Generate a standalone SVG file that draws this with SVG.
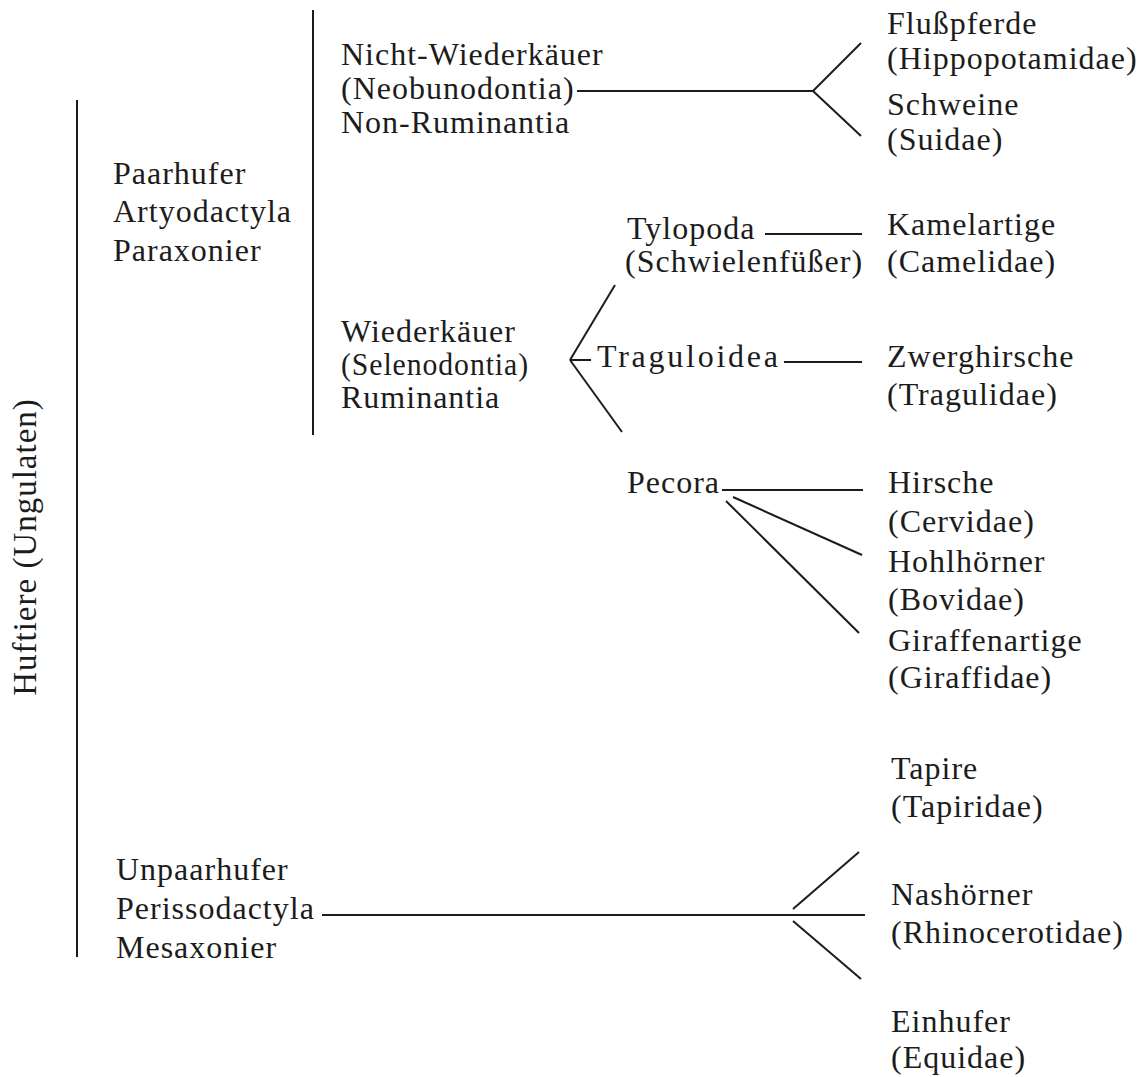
<svg xmlns="http://www.w3.org/2000/svg" width="1138" height="1077" viewBox="0 0 1138 1077">
<style>
text{font-family:"Liberation Serif","Times New Roman",serif;font-size:32px;letter-spacing:1px;fill:#1c1c1c}
.big{font-size:33px}
.c line{stroke:#1c1c1c;stroke-width:2;stroke-linecap:butt}
</style>
<rect width="1138" height="1077" fill="#ffffff"/>
<g id="root">
<text class="big" transform="translate(36,547) rotate(-90)" text-anchor="middle">Huftiere (Ungulaten)</text>
</g>
<g id="paarhufer">
<text x="113" y="184">Paarhufer</text>
<text x="113" y="222">Artyodactyla</text>
<text x="113" y="261">Paraxonier</text>
</g>
<g id="unpaarhufer">
<text x="116" y="880">Unpaarhufer</text>
<text x="116" y="919">Perissodactyla</text>
<text x="116" y="958">Mesaxonier</text>
</g>
<g id="nichtwiederkaeuer">
<text x="341" y="65">Nicht-Wiederkäuer</text>
<text x="341" y="99">(Neobunodontia)</text>
<text x="341" y="133">Non-Ruminantia</text>
</g>
<g id="wiederkaeuer">
<text x="341" y="342">Wiederkäuer</text>
<text x="341" y="375" textLength="188" lengthAdjust="spacingAndGlyphs">(Selenodontia)</text>
<text x="341" y="408">Ruminantia</text>
</g>
<g id="tylopoda">
<text x="627" y="239">Tylopoda</text>
<text x="625" y="272">(Schwielenfüßer)</text>
</g>
<g id="traguloidea">
<text x="597" y="367" textLength="182" lengthAdjust="spacing">Traguloidea</text>
</g>
<g id="pecora">
<text x="627" y="493">Pecora</text>
</g>
<g id="flusspferde">
<text x="887" y="34">Flußpferde</text>
<text x="887" y="69">(Hippopotamidae)</text>
</g>
<g id="schweine">
<text x="887" y="115">Schweine</text>
<text x="887" y="150">(Suidae)</text>
</g>
<g id="kamelartige">
<text x="887" y="235">Kamelartige</text>
<text x="887" y="272">(Camelidae)</text>
</g>
<g id="zwerghirsche">
<text x="887" y="367">Zwerghirsche</text>
<text x="887" y="405">(Tragulidae)</text>
</g>
<g id="hirsche">
<text x="888" y="493">Hirsche</text>
<text x="888" y="532">(Cervidae)</text>
</g>
<g id="hohlhoerner">
<text x="888" y="572">Hohlhörner</text>
<text x="888" y="610">(Bovidae)</text>
</g>
<g id="giraffenartige">
<text x="888" y="651">Giraffenartige</text>
<text x="888" y="688">(Giraffidae)</text>
</g>
<g id="tapire">
<text x="891" y="779">Tapire</text>
<text x="891" y="817">(Tapiridae)</text>
</g>
<g id="nashoerner">
<text x="891" y="905">Nashörner</text>
<text x="891" y="943">(Rhinocerotidae)</text>
</g>
<g id="einhufer">
<text x="891" y="1032">Einhufer</text>
<text x="891" y="1068">(Equidae)</text>
</g>
<g id="connectors" class="c">
<line x1="77" y1="100" x2="77" y2="957"/>
<line x1="313" y1="10" x2="313" y2="435"/>
<line x1="577" y1="91" x2="813" y2="91"/>
<line x1="813" y1="91" x2="861" y2="43"/>
<line x1="813" y1="91" x2="861" y2="136"/>
<line x1="570" y1="360" x2="615" y2="285"/>
<line x1="570" y1="360" x2="591" y2="360"/>
<line x1="570" y1="360" x2="622" y2="432"/>
<line x1="765" y1="234" x2="862" y2="234"/>
<line x1="784" y1="362" x2="862" y2="362"/>
<line x1="722" y1="490" x2="863" y2="490"/>
<line x1="733" y1="497" x2="862" y2="555"/>
<line x1="726" y1="501" x2="859" y2="633"/>
<line x1="322" y1="915" x2="865" y2="915"/>
<line x1="793" y1="909" x2="859" y2="852"/>
<line x1="793" y1="921" x2="861" y2="979"/>
</g>
</svg>
